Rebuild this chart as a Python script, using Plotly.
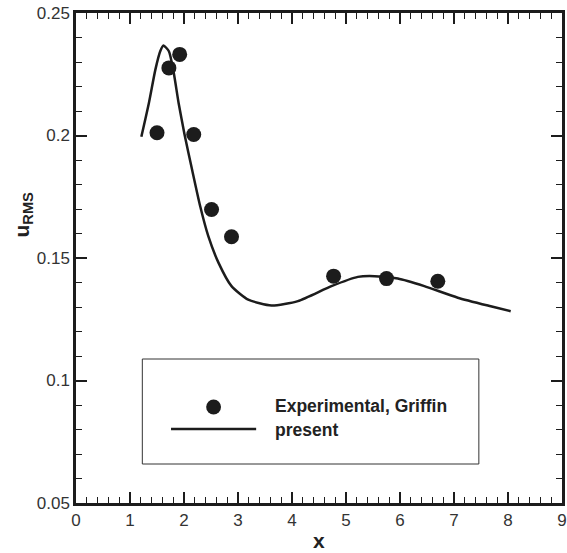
import plotly.graph_objects as go

# Experimental data (Griffin)
exp_x = [1.50, 1.72, 1.92, 2.18, 2.51, 2.88, 4.77, 5.75, 6.70]
exp_y = [0.2011, 0.2276, 0.2331, 0.2004, 0.1698, 0.1587, 0.1426, 0.1416, 0.1405]

# Present computation
cur_x = [1.21, 1.35, 1.47, 1.56, 1.62, 1.72, 1.81, 1.90, 2.01, 2.15, 2.30, 2.45,
         2.64, 2.88, 3.19, 3.62, 4.11, 4.73, 5.22, 5.53, 5.96, 6.45, 7.07, 7.68, 8.05]
cur_y = [0.1995, 0.2133, 0.2269, 0.2344, 0.2367, 0.2344, 0.2256, 0.2133, 0.2004,
         0.1860, 0.1711, 0.1589, 0.1480, 0.1385, 0.1330, 0.1306, 0.1324, 0.1385,
         0.1423, 0.1426, 0.1416, 0.1385, 0.1338, 0.1303, 0.1283]

legend_labels = ["Experimental, Griffin", "present"]

W, H = 567, 553
L, R, T, B = 76, 0, 13, 50
PW, PH = W - L - R, H - T - B


def px(p):
    return (p - L) / PW


def py(p):
    return (H - B - p) / PH


FONT = "Liberation Sans, Arial, sans-serif"
INK = "#1c1c1c"

fig = go.Figure()
fig.add_trace(go.Scatter(x=cur_x, y=cur_y, mode="lines",
                         line=dict(color=INK, width=2.5, shape="spline", smoothing=0.6),
                         name=legend_labels[1], showlegend=False))
fig.add_trace(go.Scatter(x=exp_x, y=exp_y, mode="markers",
                         marker=dict(color=INK, size=15, line=dict(width=0)),
                         name=legend_labels[0], showlegend=False))

axis_common = dict(
    showgrid=False, zeroline=False, showline=True, linecolor=INK, linewidth=2.5,
    mirror="ticks", ticks="inside", ticklen=11, tickwidth=2, tickcolor=INK,
    tickfont=dict(family=FONT, size=17, color="#333333"),
    ticklabeloverflow="allow",
)

fig.update_xaxes(range=[0, 9], dtick=1,
                 minor=dict(dtick=0.2, ticks="inside", ticklen=6, tickwidth=1.2, tickcolor=INK),
                 **axis_common)
fig.update_yaxes(range=[0.05, 0.25], dtick=0.05,
                 minor=dict(dtick=0.01, ticks="inside", ticklen=6, tickwidth=1.2, tickcolor=INK),
                 **axis_common)

# Legend box (manual, to match the reference layout)
shapes = [
    dict(type="rect", xref="paper", yref="paper", x0=px(143), x1=px(483), y0=py(464), y1=py(359),
         line=dict(color="#333333", width=1), fillcolor="white", layer="above"),
    dict(type="circle", xref="paper", yref="paper", x0=px(215 - 7.5), x1=px(215 + 7.5),
         y0=py(407 + 7.5), y1=py(407 - 7.5), line=dict(width=0), fillcolor=INK, layer="above"),
    dict(type="line", xref="paper", yref="paper", x0=px(172), x1=px(258), y0=py(429), y1=py(429),
         line=dict(color=INK, width=2.5), layer="above"),
]

annotations = [
    dict(text="<b>" + legend_labels[0] + "</b>", xref="paper", yref="paper", x=px(275), y=py(406),
         xanchor="left", yanchor="middle", showarrow=False,
         font=dict(family=FONT, size=17.5, color="#222222")),
    dict(text="<b>" + legend_labels[1] + "</b>", xref="paper", yref="paper", x=px(275), y=py(430),
         xanchor="left", yanchor="middle", showarrow=False,
         font=dict(family=FONT, size=17.5, color="#222222")),
    dict(text="<b>u</b><sub><b>RMS</b></sub>", xref="paper", yref="paper", x=px(22), y=py(215),
         xanchor="center", yanchor="middle", showarrow=False, textangle=-90,
         font=dict(family=FONT, size=21, color="#222222")),
    dict(text="<b>x</b>", xref="paper", yref="paper", x=px(322), y=py(540),
         xanchor="center", yanchor="middle", showarrow=False,
         font=dict(family=FONT, size=21, color="#222222")),
]

fig.update_layout(
    width=W, height=H, margin=dict(l=L, r=R, t=T, b=B, pad=0),
    paper_bgcolor="white", plot_bgcolor="white", showlegend=False,
    shapes=shapes, annotations=annotations,
)

fig.write_html("out.html")
